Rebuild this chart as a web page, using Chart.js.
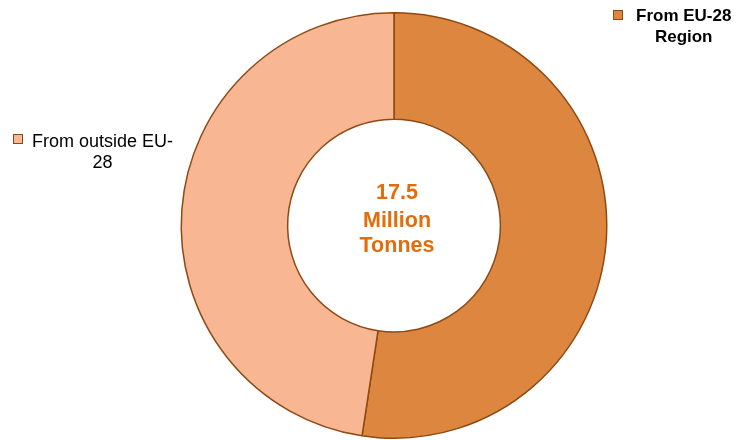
<!DOCTYPE html>
<html>
<head>
<meta charset="utf-8">
<script src="https://cdn.jsdelivr.net/npm/chart.js@4/dist/chart.umd.min.js"></script>
<style>
html,body{margin:0;padding:0;background:#fff;}
#wrap{width:737px;height:440px;position:relative;}
</style>
</head>
<body>
<div id="wrap"><canvas id="c" width="737" height="440"></canvas></div>
<script>
const categories = ["From EU-28 Region", "From outside EU-28"];
const labelLines = [["From EU-28", "Region"], ["From outside EU-", "28"]];
const values = [52.4, 47.6];
const centerLines = ["17.5", "Million", "Tonnes"];
const colors = ["#DC8640", "#F8B692"];
const borderColor = "#8E4A14";

const labelPlugin = {
  id: 'labelsPlugin',
  afterDraw(chart) {
    const ctx = chart.ctx;
    ctx.save();
    ctx.fillStyle = "#E46C0A";
    ctx.font = "bold 21.5px 'Liberation Sans', Arial, sans-serif";
    ctx.textAlign = "center";
    ctx.textBaseline = "alphabetic";
    const cx = 397;
    const baseY = [199, 227, 252];
    centerLines.forEach((t, i) => ctx.fillText(t, cx, baseY[i]));

    const specs = [
      {font: "bold 17px 'Liberation Sans', Arial, sans-serif", markerX: 613, markerY: 10, baselines: [21, 42], textLeft: 636},
      {font: "18px 'Liberation Sans', Arial, sans-serif", markerX: 13, markerY: 134, baselines: [147, 168], textLeft: 32}
    ];
    specs.forEach((s, i) => {
      ctx.fillStyle = colors[i];
      ctx.fillRect(s.markerX, s.markerY, 10, 10);
      ctx.strokeStyle = borderColor;
      ctx.lineWidth = 1;
      ctx.strokeRect(s.markerX + 0.5, s.markerY + 0.5, 9, 9);
      ctx.fillStyle = "#000";
      ctx.font = s.font;
      ctx.textAlign = "center";
      const lines = labelLines[i];
      const w0 = ctx.measureText(lines[0]).width;
      const center = s.textLeft + w0 / 2;
      lines.forEach((t, j) => ctx.fillText(t, center, s.baselines[j]));
    });
    ctx.restore();
  }
};

new Chart(document.getElementById('c'), {
  type: 'doughnut',
  data: {
    labels: categories,
    datasets: [{
      data: values,
      backgroundColor: colors,
      borderColor: borderColor,
      borderWidth: 1.5,
      hoverOffset: 0,
      borderAlign: 'center'
    }]
  },
  options: {
    responsive: false,
    animation: false,
    cutout: '50%',
    layout: {padding: {top: 12, bottom: 1, left: 51, right: 0}},
    plugins: {legend: {display: false}, tooltip: {enabled: false}},
    events: []
  },
  plugins: [labelPlugin]
});
</script>
</body>
</html>
